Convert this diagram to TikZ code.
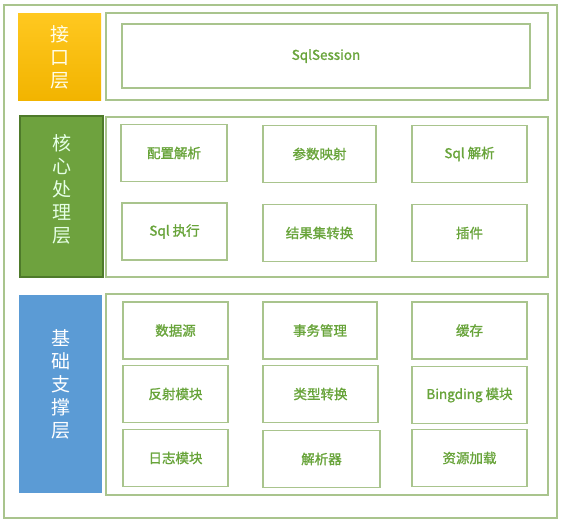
\documentclass[tikz,border=0pt]{standalone}
\usepackage{fontspec}
\newfontfamily\cjk{Noto Sans CJK SC}
\newfontfamily\cjkb[FakeBold=1.3]{Noto Sans CJK SC}
\definecolor{frameg}{HTML}{A9C48D}
\definecolor{txtg}{HTML}{68A43A}
\definecolor{yelT}{HTML}{FFC820}
\definecolor{yelB}{HTML}{F2B400}
\definecolor{grnF}{HTML}{6EA23E}
\definecolor{grnD}{HTML}{4E7A2A}
\definecolor{bluF}{HTML}{5B9BD5}
\tikzset{
  panel/.style={draw=frameg, line width=1.2pt, fill=white},
  item/.style={draw=frameg, line width=1.6pt, fill=white, text=txtg, font=\cjkb\fontsize{13.5}{15}\selectfont},
  layer/.style={align=center, font=\cjk\fontsize{19}{23}\selectfont},
}
\begin{document}
\begin{tikzpicture}[x=1pt,y=-1pt]
\useasboundingbox (0,0) rectangle (564,523);
\fill[white] (0,0) rectangle (564,523);
\draw[frameg, line width=1.2pt] (4,5) rectangle (557,518);
% layer 1
\shade[top color=yelT, bottom color=yelB] (18,13) rectangle (101,100);
\node[layer, text=white!92!yellow] (l1) at (59.5,57) {接\\口\\层};
\draw[panel] (106,13) rectangle (548,100);
\draw[item] (122,24) rectangle (530,88);
\node[text=txtg, font=\cjkb\fontsize{13.5}{15}\selectfont] (s) at (326,56) {SqlSession};
% layer 2
\draw[fill=grnF, draw=grnD, line width=1.2pt] (20,116) rectangle (103,277);
\node[layer, text=green!10!white] (l2) at (61.5,189) {核\\心\\处\\理\\层};
\draw[panel] (106,117) rectangle (548,277);
\node[item, minimum width=106pt, minimum height=57pt] (a1) at (174,153) {配置解析};
\node[item, minimum width=113pt, minimum height=57pt] (a2) at (319.5,154) {参数映射};
\node[item, minimum width=115pt, minimum height=57pt] (a3) at (469.5,154) {Sql 解析};
\node[item, minimum width=105pt, minimum height=57pt] (b1) at (174.5,231.5) {Sql 执行};
\node[item, minimum width=113pt, minimum height=57pt] (b2) at (319.5,233) {结果集转换};
\node[item, minimum width=115pt, minimum height=57pt] (b3) at (469.5,233) {插件};
% layer 3
\fill[bluF] (19,295) rectangle (102,493);
\node[layer, text=white] (l3) at (60.5,384) {基\\础\\支\\撑\\层};
\draw[panel] (106,294) rectangle (548,495);
\node[item, minimum width=105pt, minimum height=57pt] (c1) at (175.5,330.5) {数据源};
\node[item, minimum width=114pt, minimum height=57pt] (c2) at (320,330.5) {事务管理};
\node[item, minimum width=115pt, minimum height=57pt] (c3) at (469.5,330.5) {缓存};
\node[item, minimum width=105pt, minimum height=57pt] (d1) at (175.5,394) {反射模块};
\node[item, minimum width=115pt, minimum height=57pt] (d2) at (320.5,394) {类型转换};
\node[item, minimum width=115pt, minimum height=57pt] (d3) at (469.5,395) {Bingding 模块};
\node[item, minimum width=105pt, minimum height=57pt] (e1) at (175.5,458) {日志模块};
\node[item, minimum width=117pt, minimum height=57pt] (e2) at (321.5,459) {解析器};
\node[item, minimum width=115pt, minimum height=57pt] (e3) at (469.5,458) {资源加载};
\end{tikzpicture}
\end{document}
